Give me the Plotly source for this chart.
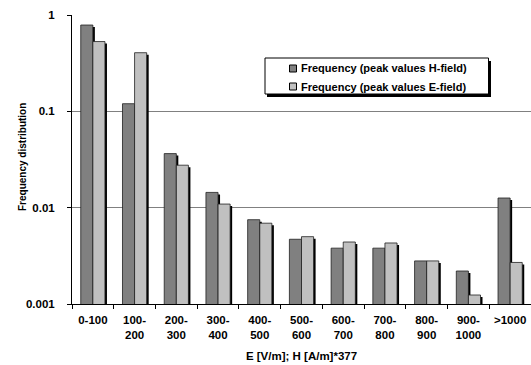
import plotly.graph_objects as go

categories = ["0-100", "100-200", "200-300", "300-400", "400-500", "500-600",
              "600-700", "700-800", "800-900", "900-1000", ">1000"]
tick_labels = ["0-100", "100-<br>200", "200-<br>300", "300-<br>400", "400-<br>500",
               "500-<br>600", "600-<br>700", "700-<br>800", "800-<br>900",
               "900-<br>1000", ">1000"]
series_names = ["Frequency (peak values H-field)", "Frequency (peak values E-field)"]
h_field = [0.787, 0.120, 0.0364, 0.0144, 0.0075, 0.0047, 0.0038, 0.0038,
           0.0028, 0.0022, 0.0126]
e_field = [0.530, 0.406, 0.0276, 0.0109, 0.0069, 0.0050, 0.0044, 0.0043,
           0.0028, 0.00124, 0.0027]

FONT = "Liberation Sans, Arial, sans-serif"
COLORS = ["#808080", "#c0c0c0"]

W, H = 531, 365
L, R, T, B = 72, 0, 15, 61
pw, ph = W - L - R, H - T - B
cat_px = pw / len(categories)
decade_px = ph / 3.0

BAR_W = 0.29
SHADOW_DX = 2 / cat_px
SHADOW_FY = 10 ** (-2 / decade_px)

fig = go.Figure()
# drop shadows (drawn first, behind the bars)
for i, vals in enumerate([h_field, e_field]):
    fig.add_trace(go.Bar(x=categories, y=[v * SHADOW_FY for v in vals],
                         width=BAR_W, offset=-BAR_W + i * BAR_W + SHADOW_DX,
                         marker=dict(color="black", line=dict(width=0)),
                         showlegend=False, hoverinfo="skip"))
for i, vals in enumerate([h_field, e_field]):
    fig.add_trace(go.Bar(x=categories, y=vals, name=series_names[i],
                         width=BAR_W, offset=-BAR_W + i * BAR_W,
                         marker=dict(color=COLORS[i], line=dict(color="#202020", width=0.8)),
                         showlegend=False))

def px_x(x):
    return (x - L) / pw

def px_y(y):
    return (H - B - y) / ph

shapes = []
annotations = []
# legend box with shadow
shapes.append(dict(type="rect", xref="paper", yref="paper",
                   x0=px_x(267), x1=px_x(491), y0=px_y(97), y1=px_y(61),
                   fillcolor="black", line=dict(width=0), layer="above"))
shapes.append(dict(type="rect", xref="paper", yref="paper",
                   x0=px_x(265), x1=px_x(488.5), y0=px_y(94), y1=px_y(58),
                   fillcolor="white", line=dict(color="black", width=1), layer="above"))
for i, name in enumerate(series_names):
    cy = 68.5 + i * 18
    shapes.append(dict(type="rect", xref="paper", yref="paper",
                       x0=px_x(289.5), x1=px_x(296.5), y0=px_y(cy + 3.5), y1=px_y(cy - 3.5),
                       fillcolor=COLORS[i], line=dict(color="black", width=1), layer="above"))
    annotations.append(dict(xref="paper", yref="paper", x=px_x(299), y=px_y(cy),
                            xanchor="left", yanchor="middle", showarrow=False,
                            text="<b>%s</b>" % name,
                            font=dict(family=FONT, size=11, color="black")))
# y axis title
annotations.append(dict(xref="paper", yref="paper", x=px_x(22), y=px_y(157),
                        xanchor="center", yanchor="middle", showarrow=False,
                        textangle=-90, text="<b>Frequency distribution</b>",
                        font=dict(family=FONT, size=10, color="black")))

fig.update_layout(
    width=W, height=H,
    margin=dict(l=L, r=R, t=T, b=B, pad=0),
    paper_bgcolor="white", plot_bgcolor="white",
    barmode="overlay",
    font=dict(family=FONT, size=11.5, color="black"),
    showlegend=False,
    shapes=shapes, annotations=annotations,
    xaxis=dict(
        automargin=False,
        tickmode="array", tickvals=categories, ticktext=["<b>%s</b>" % t for t in tick_labels],
        tickson="boundaries", ticks="outside", ticklen=4, tickcolor="black",
        ticklabelstandoff=5,
        showline=True, linecolor="black", linewidth=1,
        showgrid=False, tickfont=dict(size=11.5),
        title=dict(text="<b>E [V/m]; H [A/m]*377</b>", font=dict(size=11.5), standoff=12),
    ),
    yaxis=dict(
        automargin=False,
        type="log", range=[-3, 0],
        tickmode="array", tickvals=[0.001, 0.01, 0.1, 1],
        ticktext=["<b>0.001</b>", "<b>0.01</b>", "<b>0.1</b>", "<b>1</b>"],
        ticks="outside", ticklen=4, tickcolor="black", ticklabelstandoff=10,
        showline=True, linecolor="black", linewidth=1,
        showgrid=True, gridcolor="#808080", gridwidth=1,
        tickfont=dict(size=11.5),
    ),
)

fig.write_html("out.html", config={"displayModeBar": False},
               post_script="document.body.style.margin='0';")
